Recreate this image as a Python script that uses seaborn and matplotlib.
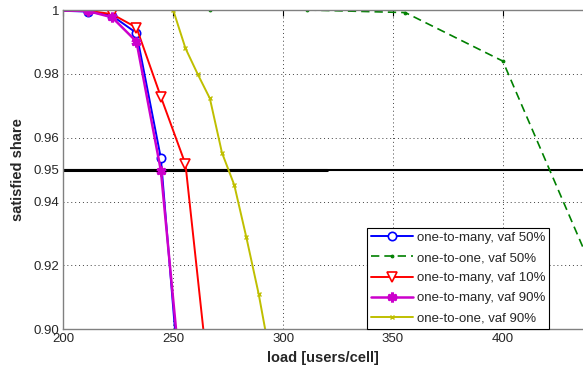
import numpy as np
import pandas as pd
import matplotlib
matplotlib.use("Agg")
import matplotlib.pyplot as plt
import seaborn as sns

sns.set_style("white")
plt.rcParams['font.family'] = ['Liberation Sans', 'DejaVu Sans']

# ---- data ----
x_blue = [188.9, 211.1, 222.2, 233.3, 244.4, 255.6]
y_blue = [1.0, 0.9995, 0.9982, 0.9928, 0.9536, 0.860]

x_green = [177.8, 222.2, 266.7, 311.1, 355.6, 400.0, 444.4]
y_green = [1.0, 1.0, 1.0, 1.0, 0.9992, 0.984, 0.913]

x_red = [188.9, 211.1, 222.2, 233.3, 244.4, 255.6, 266.7]
y_red = [1.0, 0.9998, 0.9987, 0.9945, 0.9728, 0.9517, 0.881]

x_mag = [188.9, 211.1, 222.2, 233.3, 244.4, 255.6]
y_mag = [1.0, 0.9997, 0.9977, 0.9901, 0.9497, 0.869]

x_yel = [250.0, 255.6, 261.1, 266.7, 272.2, 277.8, 283.3, 288.9, 294.4]
y_yel = [1.0, 0.988, 0.980, 0.9723, 0.9553, 0.9452, 0.9288, 0.9111, 0.8905]

labels = ["one-to-many, vaf 50%", "one-to-one, vaf 50%", "one-to-many, vaf 10%",
          "one-to-many, vaf 90%", "one-to-one, vaf 90%"]

yticks = [0.90, 0.92, 0.94, 0.95, 0.96, 0.98, 1.0]
ytick_labels = ["0.90", "0.92", "0.94", "0.95", "0.96", "0.98", "1"]
xticks = [200, 250, 300, 350, 400]

fig = plt.figure(figsize=(5.83, 3.71), dpi=100)
ax = fig.add_axes([63.3 / 583, 1 - 329.3 / 371, 1 - 63.3 / 583, (329.3 - 10) / 371])

# threshold lines
ax.plot([200, 320], [0.95, 0.95], color='black', lw=2.2, zorder=1.5)
ax.axhline(0.95, color='black', lw=1.5, zorder=1.5)

blue = (0, 0, 1)
green = (0, 0.5, 0)
red = (1, 0, 0)
mag = (0.8, 0, 0.8)
yel = (0.75, 0.75, 0)

series = [
    (x_blue, y_blue, dict(color=blue, marker='o', markersize=6, markerfacecolor='white',
                          markeredgecolor=blue, markeredgewidth=1.2, lw=1.4)),
    (x_green, y_green, dict(color=green, marker='.', markersize=4, markeredgecolor=green,
                            markerfacecolor=green, lw=1.2, linestyle=(0, (5, 3)))),
    (x_red, y_red, dict(color=red, marker='v', markersize=7, markerfacecolor='white',
                        markeredgecolor=red, markeredgewidth=1.2, lw=1.4)),
    (x_mag, y_mag, dict(color=mag, marker=(6, 2, 0), markersize=7, markeredgecolor=mag,
                        markeredgewidth=2.2, lw=1.8)),
    (x_yel, y_yel, dict(color=yel, marker='x', markersize=3.5, markeredgecolor=yel,
                        markeredgewidth=1.0, lw=1.4)),
]

for (xs, ys, kw), lab in zip(series, labels):
    df = pd.DataFrame({"load": xs, "share": ys})
    sns.lineplot(data=df, x="load", y="share", ax=ax, label=lab, sort=False, **kw)

ax.set_xlim(200, 436.5)
ax.set_ylim(0.90, 1.0)
ax.set_xticks(xticks)
ax.set_xticklabels([str(t) for t in xticks])
ax.set_yticks(yticks)
ax.set_yticklabels(ytick_labels)

ax.grid(True, color='0.25', linestyle=(0, (1, 3)), lw=0.7)
ax.set_axisbelow(True)
for s in ['left', 'bottom', 'top']:
    ax.spines[s].set_color('0.5')
    ax.spines[s].set_linewidth(1.0)
ax.spines['right'].set_visible(False)
ax.tick_params(direction='in', top=True, right=False, length=4, width=0.8,
               labelsize=9.5, colors='black', pad=3)
for t in ax.get_xticklabels() + ax.get_yticklabels():
    t.set_color('0.15')

ax.set_xlabel("load [users/cell]", fontsize=10.5, fontweight='bold', labelpad=4)
ax.set_ylabel("satisfied share", fontsize=10.5, fontweight='bold', labelpad=6)

leg = ax.legend(loc='upper left', bbox_to_anchor=(0.584, 0.318), fontsize=9.5,
                frameon=True, fancybox=False, framealpha=1, edgecolor='black',
                borderpad=0.3, labelspacing=0.6, handlelength=3.2, handletextpad=0.3,
                borderaxespad=0)
leg.get_frame().set_linewidth(0.8)

fig.savefig("out.png", dpi=100)
